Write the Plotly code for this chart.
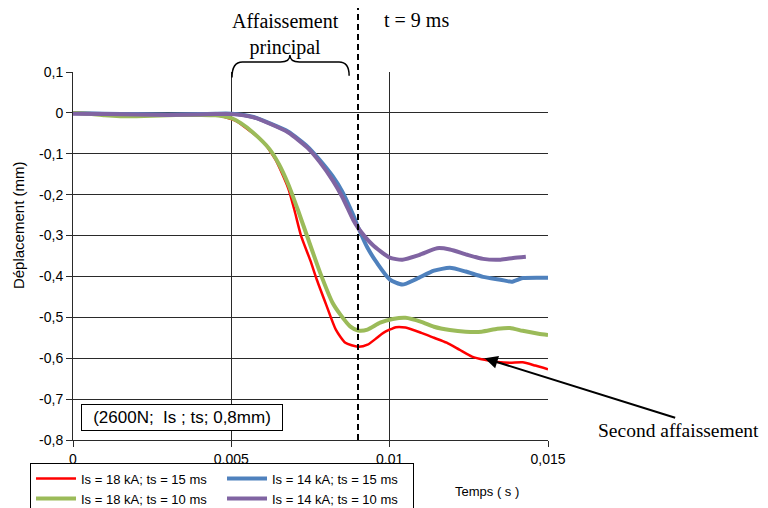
import plotly.graph_objects as go

# ---- data (time in s, displacement in mm) ----
t_red = [0, 0.001, 0.002, 0.003, 0.004, 0.0045, 0.005, 0.0052, 0.0056, 0.006, 0.0064, 0.0068,
         0.007, 0.0072, 0.0075, 0.0077, 0.008, 0.0083, 0.0086, 0.009, 0.0093, 0.0096, 0.0098,
         0.0102, 0.0105, 0.011, 0.0114, 0.0118, 0.0122, 0.0126, 0.013, 0.0134, 0.0138, 0.0142,
         0.0146, 0.015]
d_red = [0, -0.002, -0.004, -0.005, -0.004, -0.005, -0.015, -0.022, -0.045, -0.07, -0.115, -0.185,
         -0.24, -0.30, -0.362, -0.408, -0.47, -0.53, -0.562, -0.572, -0.567, -0.55, -0.538,
         -0.524, -0.525, -0.538, -0.55, -0.562, -0.579, -0.596, -0.604, -0.609, -0.611, -0.610,
         -0.618, -0.627]

t_blue = [0, 0.001, 0.002, 0.003, 0.004, 0.0045, 0.005, 0.0057, 0.0062, 0.0068, 0.0074, 0.0078,
          0.0082, 0.0085, 0.00885, 0.009, 0.0093, 0.0096, 0.01, 0.0104, 0.01085, 0.0114, 0.0119,
          0.0124, 0.01295, 0.0135, 0.01385, 0.0142, 0.01475, 0.015]
d_blue = [0, -0.002, -0.003, -0.004, -0.003, -0.002, -0.002, -0.010, -0.025, -0.046, -0.082, -0.116,
          -0.155, -0.192, -0.250, -0.279, -0.330, -0.367, -0.407, -0.420, -0.406, -0.386, -0.379,
          -0.388, -0.401, -0.408, -0.413, -0.404, -0.403, -0.403]

t_green = [0, 0.0005, 0.001, 0.0015, 0.002, 0.0025, 0.003, 0.0035, 0.004, 0.0045, 0.005, 0.0053,
           0.0057, 0.0062, 0.0065, 0.0068, 0.0071, 0.0074, 0.0078, 0.0082, 0.00845, 0.00875,
           0.009, 0.0093, 0.0097, 0.0101, 0.0105, 0.011, 0.0114, 0.0119, 0.0124, 0.0129, 0.0134,
           0.0138, 0.0142, 0.0147, 0.015]
d_green = [0, -0.002, -0.006, -0.008, -0.008, -0.007, -0.006, -0.005, -0.005, -0.006, -0.013, -0.025,
           -0.049, -0.088, -0.125, -0.175, -0.237, -0.303, -0.39, -0.465, -0.494, -0.522,
           -0.532, -0.530, -0.513, -0.504, -0.501, -0.511, -0.523, -0.531, -0.535, -0.535, -0.528,
           -0.526, -0.533, -0.540, -0.543]

t_purple = [0, 0.001, 0.002, 0.003, 0.004, 0.0045, 0.005, 0.0057, 0.0062, 0.0068, 0.0074, 0.0078,
            0.0082, 0.0085, 0.00885, 0.009, 0.00945, 0.01, 0.0104, 0.01095, 0.0115, 0.0119,
            0.01245, 0.01295, 0.0135, 0.0139, 0.0143]
d_purple = [-0.002, -0.003, -0.004, -0.005, -0.004, -0.003, -0.003, -0.011, -0.026, -0.048, -0.085, -0.121,
            -0.165, -0.205, -0.262, -0.281, -0.322, -0.354, -0.359, -0.347, -0.331, -0.334,
            -0.347, -0.357, -0.359, -0.355, -0.352]

series_names = ["Is = 18 kA; ts = 15 ms", "Is = 14 kA; ts = 15 ms",
                "Is = 18 kA; ts = 10 ms", "Is = 14 kA; ts = 10 ms"]

x_tickvals = [0, 0.005, 0.01, 0.015]
x_ticktext = ["0", "0,005", "0,01", "0,015"]
y_tickvals = [0.1, 0, -0.1, -0.2, -0.3, -0.4, -0.5, -0.6, -0.7, -0.8]
y_ticktext = ["0,1", "0", "-0,1", "-0,2", "-0,3", "-0,4", "-0,5", "-0,6", "-0,7", "-0,8"]

t_marker = 0.009          # t = 9 ms
arrow_t, arrow_d = 0.013, -0.600

SANS = "Liberation Sans, Arial, sans-serif"
SERIF = "Liberation Serif, Times New Roman, serif"

fig = go.Figure()
styles = [("#FF0000", 2.5), ("#4F81BD", 4), ("#9BBB59", 4), ("#8064A2", 4)]
for (tx, dy), name, (col, w) in zip(
        [(t_red, d_red), (t_blue, d_blue), (t_green, d_green), (t_purple, d_purple)],
        series_names, styles):
    fig.add_trace(go.Scatter(x=tx, y=dy, mode="lines", name=name,
                             line=dict(color=col, width=w, shape="spline", smoothing=0.6)))

# page body has an 8px margin, so the figure is 760x500 and offset by 8px
fig.update_layout(
    width=760, height=500,
    margin=dict(l=65, r=220, t=64, b=68, autoexpand=False),
    paper_bgcolor="white", plot_bgcolor="white",
    font=dict(family=SANS, size=14, color="black"),
    showlegend=True,
    legend=dict(orientation="h", x=-0.0905, y=-0.0615, xanchor="left", yanchor="top",
                bordercolor="black", borderwidth=1, bgcolor="white",
                font=dict(family=SANS, size=13, color="black"),
                entrywidth=136, entrywidthmode="pixels",
                tracegroupgap=0, itemwidth=40),
)
fig.update_xaxes(range=[0, 0.015], tickvals=x_tickvals, ticktext=x_ticktext,
                 showgrid=True, gridcolor="#2a2a2a", gridwidth=1,
                 showline=True, linecolor="#2a2a2a", linewidth=1,
                 ticks="outside", ticklen=6, tickcolor="#2a2a2a",
                 zeroline=False, tickfont=dict(size=14))
fig.update_yaxes(range=[-0.8, 0.1], tickvals=y_tickvals, ticktext=y_ticktext,
                 showgrid=True, gridcolor="#2a2a2a", gridwidth=1,
                 showline=True, linecolor="#2a2a2a", linewidth=1,
                 ticks="outside", ticklen=6, tickcolor="#2a2a2a",
                 zeroline=False, tickfont=dict(size=14))

# dashed t = 9 ms line
fig.add_shape(type="line", xref="x", yref="paper", x0=t_marker, x1=t_marker, y0=0, y1=1.19,
              line=dict(color="black", width=2, dash="6px,4px"))

# brace over main settlement
fig.add_shape(type="path", xref="x", yref="paper",
              path=("M 0.00502,0.985 Q 0.00502,1.027 0.00535,1.027 L 0.00655,1.027 "
                    "Q 0.00685,1.027 0.00685,1.046 Q 0.00685,1.027 0.00715,1.027 "
                    "L 0.00840,1.027 Q 0.00872,1.027 0.00872,0.99"),
              line=dict(color="black", width=1.5))

common = dict(xref="paper", yref="paper", showarrow=False, xanchor="center", yanchor="middle")
fig.add_annotation(text="Affaissement<br>principal", x=0.4484, y=1.103,
                   font=dict(family=SERIF, size=20, color="black"), **common)
fig.add_annotation(text="t = 9 ms", x=0.7242, y=1.1413,
                   font=dict(family=SERIF, size=20, color="black"), **common)
fig.add_annotation(text="Second affaissement", x=1.274, y=0.0245,
                   font=dict(family=SERIF, size=19.5, color="black"), **common)
fig.add_annotation(text="", x=arrow_t, y=arrow_d, xref="x", yref="y",
                   showarrow=True, ax=192, ay=60, arrowhead=2, arrowsize=1.3,
                   arrowwidth=2, arrowcolor="black")
fig.add_annotation(text="(2600N;  Is ; ts; 0,8mm)", x=0.2305, y=0.0625,
                   bordercolor="black", borderwidth=1, borderpad=3, bgcolor="white",
                   width=194, font=dict(family=SANS, size=17, color="black"), **common)
fig.add_annotation(text="Temps ( s )", x=0.8716, y=-0.1413,
                   font=dict(family=SANS, size=13, color="black"), **common)
fig.add_annotation(text="Déplacement (mm)", x=-0.1158, y=0.584, textangle=-90,
                   font=dict(family=SANS, size=15, color="black"), **common)

fig.write_html("out.html")
